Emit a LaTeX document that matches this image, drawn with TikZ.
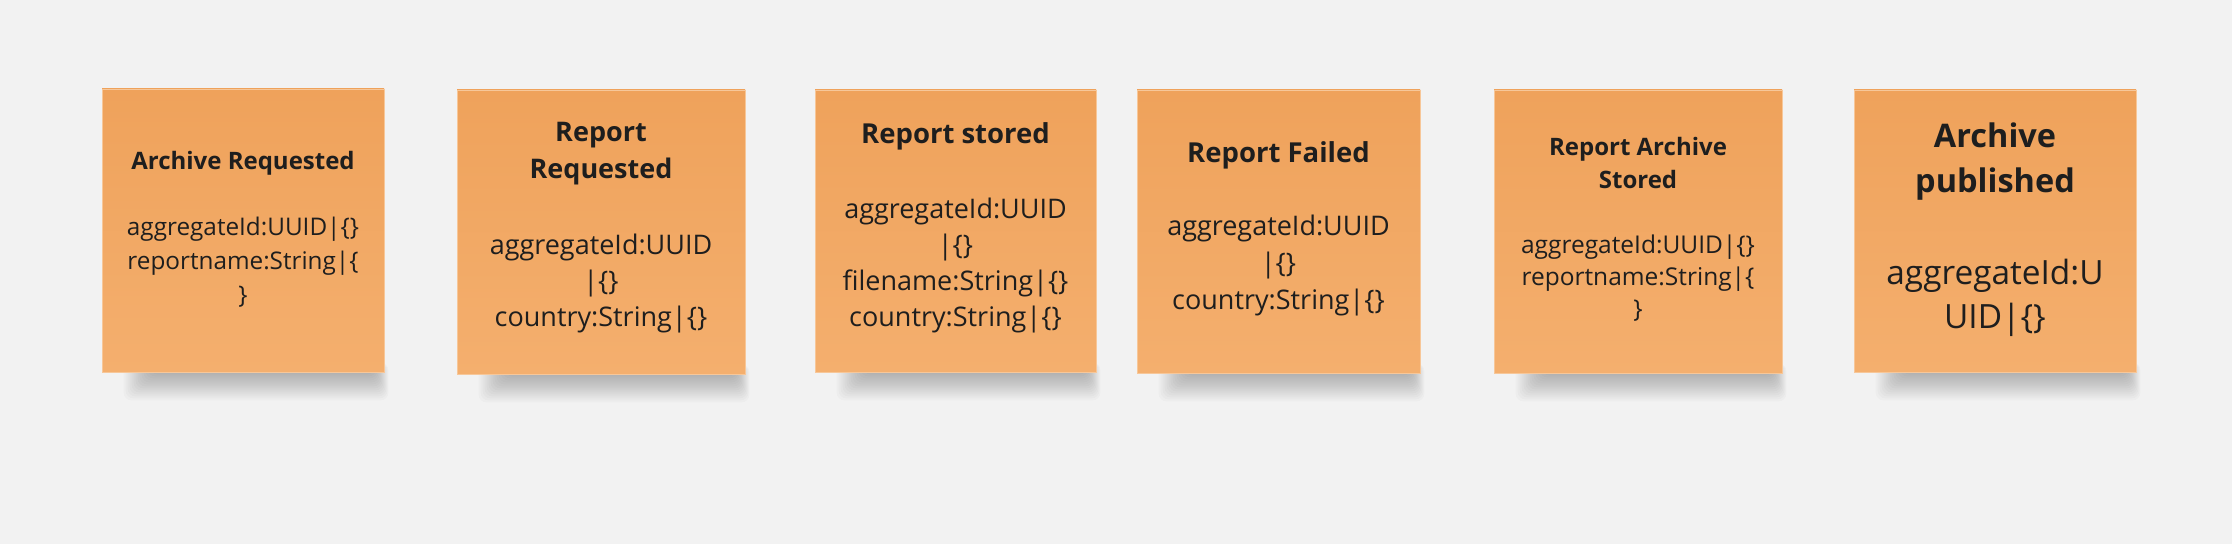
\documentclass[tikz,border=0pt]{standalone}
\usepackage{fontspec}
\setmainfont{Open Sans}
\usetikzlibrary{backgrounds,calc}

\definecolor{boardgrey}{HTML}{F2F2F2}
\definecolor{notetop}{HTML}{EFA25B}
\definecolor{notebottom}{HTML}{F4AF6E}
\definecolor{inkgrey}{HTML}{1E1E1E}

\tikzset{
  sticky/.style={rectangle, inner sep=0pt, top color=notetop, bottom color=notebottom,
    draw=notebottom!70!white, line width=0.8pt},
  evtitle/.style 2 args={align=center, inner sep=0pt, text=inkgrey,
    font=\bfseries\fontsize{#1}{#2}\selectfont},
  evbody/.style 2 args={align=center, inner sep=0pt, text=inkgrey,
    font=\fontsize{#1}{#2}\selectfont},
}

\begin{document}
\begin{tikzpicture}[x=1pt,y=1pt]
  \useasboundingbox (0,0) rectangle (2232,544);

  % the six domain events
  \node (ar)  at (243,313.5)  [sticky, minimum width=282, minimum height=283] {};
  \node (rr)  at (601,312)    [sticky, minimum width=288, minimum height=284] {};
  \node (rs)  at (955.5,313)  [sticky, minimum width=281, minimum height=282] {};
  \node (rf)  at (1278.5,312.5) [sticky, minimum width=283, minimum height=283] {};
  \node (ras) at (1638,312.5) [sticky, minimum width=288, minimum height=283] {};
  \node (ap)  at (1995,313)   [sticky, minimum width=282, minimum height=282] {};

  % titles
  \node (ar-t)  at (243,381)    [evtitle={24}{32}] {Archive Requested};
  \node (rr-t)  at (601,390)    [evtitle={27}{37}] {Report\\Requested};
  \node (rs-t)  at (955.5,408)  [evtitle={27.5}{36}] {Report stored};
  \node (rf-t)  at (1278.5,389) [evtitle={27.5}{36}] {Report Failed};
  \node (ras-t) at (1638,381)   [evtitle={24}{33}] {Report Archive\\Stored};
  \node (ap-t)  at (1995,382)   [evtitle={32.5}{45}] {Archive\\published};

  % fields
  \node (ar-b)  at (243,282)    [evbody={24.3}{34}] {aggregateId:UUID|\{\}\\reportname:String|\{\\\}};
  \node (rr-b)  at (601,260)    [evbody={27}{36}] {aggregateId:UUID\\|\{\}\\country:String|\{\}};
  \node (rs-b)  at (955.5,278)  [evbody={27}{36}] {aggregateId:UUID\\|\{\}\\filename:String|\{\}\\country:String|\{\}};
  \node (rf-b)  at (1278.5,278) [evbody={27}{37}] {aggregateId:UUID\\|\{\}\\country:String|\{\}};
  \node (ras-b) at (1638,266)   [evbody={24.5}{32}] {aggregateId:UUID|\{\}\\reportname:String|\{\\\}};
  \node (ap-b)  at (1995,246)   [evbody={33.4}{44}] {aggregateId:U\\UID|\{\}};

  % board and soft shadows under the notes
  \begin{scope}[on background layer]
    \fill[boardgrey] (0,0) rectangle (2232,544);
    \foreach \n in {ar,rr,rs,rf,ras,ap}
      \foreach \k in {0,...,13}
        \fill[black, opacity=0.018, rounded corners=8pt]
          ($(\n.south west)+(22+2*\k,10)$) rectangle ($(\n.south east)+(4-\k,-28+2*\k)$);
  \end{scope}
\end{tikzpicture}
\end{document}
